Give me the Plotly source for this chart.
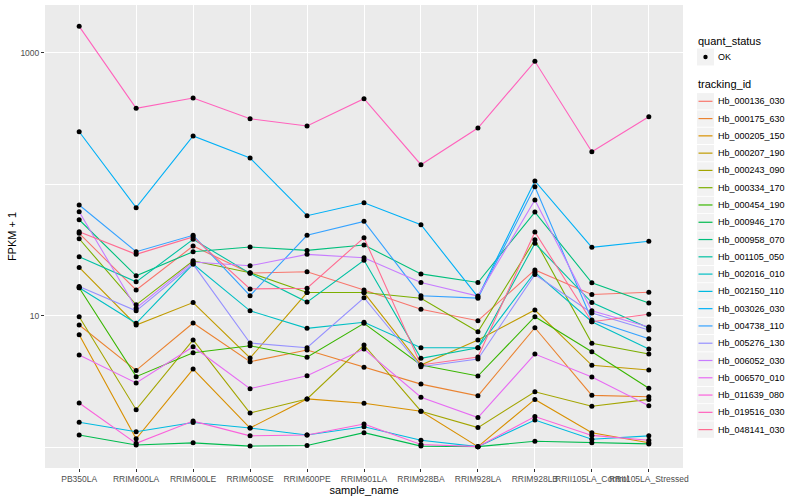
import plotly.graph_objects as go

samples = ["PB350LA", "RRIM600LA", "RRIM600LE", "RRIM600SE", "RRIM600PE", "RRIM901LA",
           "RRIM928BA", "RRIM928LA", "RRIM928LB", "RRII105LA_Control", "RRII105LA_Stressed"]

tracking_ids = ["Hb_000136_030", "Hb_000175_630", "Hb_000205_150", "Hb_000207_190", "Hb_000243_090",
                "Hb_000334_170", "Hb_000454_190", "Hb_000946_170", "Hb_000958_070", "Hb_001105_050",
                "Hb_002016_010", "Hb_002150_110", "Hb_003026_030", "Hb_004738_110", "Hb_005276_130",
                "Hb_006052_030", "Hb_006570_010", "Hb_011639_080", "Hb_019516_030", "Hb_048141_030"]

colors = ["#F8766D", "#EA8331", "#D89000", "#C09B00", "#A3A500", "#7CAE00", "#39B600", "#00BB4E",
          "#00BF7D", "#00C1A3", "#00BFC4", "#00BAE0", "#00B0F6", "#35A2FF", "#9590FF", "#C77CFF",
          "#E76BF3", "#FA62DB", "#FF62BC", "#FF6C91"]

# FPKM + 1 per sample (same order as samples)
Hb_000136_030 = [42.3, 15.7, 33.9, 21.1, 21.6, 15.7, 11.2, 9.16, 22.3, 14.5, 15.1]
Hb_000175_630 = [8.5, 3.84, 8.8, 4.47, 5.48, 4.05, 3.02, 2.46, 8.1, 2.48, 2.42]
Hb_000205_150 = [7.17, 1.16, 3.93, 1.40, 2.33, 2.16, 1.88, 1.01, 2.31, 1.29, 1.08]
Hb_000207_190 = [23.3, 8.5, 12.6, 4.77, 15.0, 15.0, 4.22, 6.54, 11.05, 4.2, 3.87]
Hb_000243_090 = [9.83, 1.93, 6.54, 1.82, 2.33, 5.99, 1.88, 1.41, 2.64, 2.05, 2.31]
Hb_000334_170 = [38.5, 12.1, 26.2, 21.2, 15.0, 15.0, 13.6, 7.56, 37.8, 6.17, 5.11]
Hb_000454_190 = [16.3, 3.44, 5.23, 5.91, 4.83, 8.76, 4.22, 3.48, 9.83, 5.32, 2.81]
Hb_000946_170 = [1.24, 1.04, 1.08, 1.02, 1.03, 1.29, 1.02, 1.01, 1.11, 1.08, 1.06]
Hb_000958_070 = [53.7, 20.1, 30.7, 33.3, 31.4, 34.5, 20.8, 17.9, 61.4, 17.8, 12.5]
Hb_001105_050 = [28.1, 18.1, 38.1, 21.0, 12.7, 26.4, 4.74, 5.71, 35.5, 12.6, 8.06]
Hb_002016_010 = [16.3, 8.76, 24.7, 10.9, 8.02, 8.91, 5.71, 5.71, 21.4, 9.0, 5.58]
Hb_002150_110 = [1.55, 1.31, 1.54, 1.40, 1.24, 1.43, 1.13, 1.01, 1.61, 1.15, 1.22]
Hb_003026_030 = [250.7, 66.3, 232.6, 158.2, 57.6, 72.3, 49.2, 13.9, 105.8, 33.1, 36.8]
Hb_004738_110 = [69.5, 30.7, 40.9, 14.2, 40.9, 52.2, 14.2, 13.6, 95.7, 9.28, 6.69]
Hb_005276_130 = [16.7, 10.9, 24.7, 6.2, 5.71, 13.7, 4.09, 4.69, 20.6, 10.5, 7.78]
Hb_006052_030 = [61.8, 11.4, 25.6, 24.0, 29.3, 27.6, 17.9, 14.1, 75.8, 10.9, 8.2]
Hb_006570_010 = [5.02, 3.08, 5.81, 2.79, 3.50, 5.58, 2.40, 1.68, 5.11, 3.42, 2.07]
Hb_011639_080 = [2.17, 1.07, 1.58, 1.22, 1.24, 1.50, 1.05, 1.01, 1.71, 1.23, 1.13]
Hb_019516_030 = [1588, 377.8, 452.4, 314.9, 277.1, 446.9, 140.7, 267.6, 860.2, 176.7, 326.1]
Hb_048141_030 = [43.5, 29.3, 39.7, 16.0, 16.2, 39.2, 4.22, 4.85, 43.3, 9.0, 10.25]

series = [Hb_000136_030, Hb_000175_630, Hb_000205_150, Hb_000207_190, Hb_000243_090,
          Hb_000334_170, Hb_000454_190, Hb_000946_170, Hb_000958_070, Hb_001105_050,
          Hb_002016_010, Hb_002150_110, Hb_003026_030, Hb_004738_110, Hb_005276_130,
          Hb_006052_030, Hb_006570_010, Hb_011639_080, Hb_019516_030, Hb_048141_030]

quant_status = ["OK"]

W, H = 800, 500
ML, MR, MT, MB = 45, 117, 5, 32
PW, PH = W - ML - MR, H - MT - MB


def px(xp):
    return (xp - ML) / PW


def py(yp):
    return 1 - (yp - MT) / PH


fig = go.Figure()
for i, (tid, vals) in enumerate(zip(tracking_ids, series)):
    fig.add_trace(go.Scatter(
        x=samples, y=vals, mode="lines", name=tid,
        line=dict(color=colors[i], width=1.1),
        showlegend=False, hoverinfo="x+y+name"))

all_x = [s for vals in series for s in samples]
all_y = [v for vals in series for v in vals]
fig.add_trace(go.Scatter(
    x=all_x, y=all_y, mode="markers", name=quant_status[0],
    marker=dict(color="black", size=5),
    showlegend=False))

# manual ggplot-style legend
shapes = []
annotations = []
key_x0, key_x1 = 697, 714
annotations.append(dict(x=px(696), y=py(41), xref="paper", yref="paper", text="quant_status",
                        showarrow=False, xanchor="left", yanchor="middle",
                        font=dict(size=11, color="black")))
shapes.append(dict(type="rect", xref="paper", yref="paper", x0=px(key_x0), x1=px(key_x1),
                   y0=py(48.5), y1=py(65.5), fillcolor="#F2F2F2", line=dict(width=0), layer="above"))
shapes.append(dict(type="circle", xref="paper", yref="paper", x0=px(703.3), x1=px(707.7),
                   y0=py(54.8), y1=py(59.2), fillcolor="black", line=dict(width=0), layer="above"))
annotations.append(dict(x=px(716), y=py(57), xref="paper", yref="paper", text=quant_status[0],
                        showarrow=False, xanchor="left", yanchor="middle",
                        font=dict(size=9, color="black")))
annotations.append(dict(x=px(696), y=py(84), xref="paper", yref="paper", text="tracking_id",
                        showarrow=False, xanchor="left", yanchor="middle",
                        font=dict(size=11, color="black")))
for i, tid in enumerate(tracking_ids):
    cy = 101.3 + 17.28 * i
    shapes.append(dict(type="rect", xref="paper", yref="paper", x0=px(key_x0), x1=px(key_x1),
                       y0=py(cy - 8.2), y1=py(cy + 8.2), fillcolor="#F2F2F2",
                       line=dict(width=0), layer="above"))
    shapes.append(dict(type="line", xref="paper", yref="paper", x0=px(698.5), x1=px(712.5),
                       y0=py(cy), y1=py(cy), line=dict(color=colors[i], width=1.2), layer="above"))
    annotations.append(dict(x=px(716), y=py(cy), xref="paper", yref="paper", text=tid,
                            showarrow=False, xanchor="left", yanchor="middle",
                            font=dict(size=9, color="black")))

grey = "#4D4D4D"
fig.update_layout(
    width=W, height=H,
    margin=dict(l=ML, r=MR, t=MT, b=MB, autoexpand=False),
    paper_bgcolor="white", plot_bgcolor="#EBEBEB",
    font=dict(family="Liberation Sans, Arial, sans-serif", size=11, color="black"),
    showlegend=False,
    shapes=shapes, annotations=annotations,
    xaxis=dict(type="category", categoryorder="array", categoryarray=samples,
               range=[-0.6, len(samples) - 0.4], automargin=False,
               showgrid=True, gridcolor="white", gridwidth=1.1,
               ticks="outside", ticklen=3, tickcolor="#333333", tickangle=0,
               tickfont=dict(size=8.5, color=grey),
               title=dict(text="sample_name", font=dict(size=11, color="black"), standoff=1),
               showline=False, zeroline=False),
    yaxis=dict(type="log", range=[-0.158, 3.363], automargin=False,
               tickvals=[10, 1000], ticktext=["10", "1000"],
               showgrid=True, gridcolor="white", gridwidth=1.1,
               minor=dict(tickvals=[1, 100], showgrid=True, gridcolor="white", gridwidth=0.6, ticklen=0),
               ticks="outside", ticklen=3, tickcolor="#333333",
               tickfont=dict(size=8.5, color=grey),
               title=dict(text="FPKM + 1", font=dict(size=11, color="black"), standoff=1),
               showline=False, zeroline=False),
)

fig.write_html("out.html", config={"displayModeBar": False},
               post_script="document.body.style.margin='0';document.body.style.overflow='hidden';")
